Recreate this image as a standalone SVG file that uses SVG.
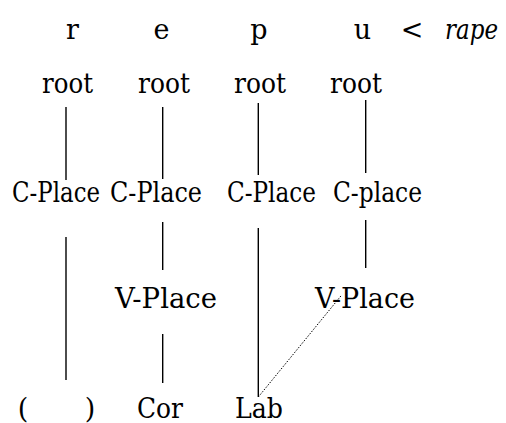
<svg xmlns="http://www.w3.org/2000/svg" width="506" height="423" viewBox="0 0 506 423">
<style>
.t{font-size:27px;fill:#000}
.it{font-style:italic}
.c{text-anchor:middle}
.ln{stroke:#000;stroke-width:1.4;fill:none}
.dot{stroke:#000;stroke-width:1;stroke-dasharray:1.5 1.5;fill:none}
</style>
<rect width="506" height="423" fill="#fff"/>
<g font-family="DejaVu Serif, serif" class="t">
<g id="segments">
<text x="72.5" y="39" class="c">r</text>
<text x="161.5" y="39" class="c">e</text>
<text x="259" y="39" class="c">p</text>
<text x="362.5" y="39" class="c">u</text>
<text x="412" y="39" class="c">&lt;</text>
<text x="445" y="39" class="it" textLength="53" lengthAdjust="spacingAndGlyphs">rape</text>
</g>
<g id="root1"><text x="42" y="93" textLength="51" lengthAdjust="spacingAndGlyphs">root</text></g>
<g id="root2"><text x="138" y="93" textLength="52" lengthAdjust="spacingAndGlyphs">root</text></g>
<g id="root3"><text x="234" y="93" textLength="52" lengthAdjust="spacingAndGlyphs">root</text></g>
<g id="root4"><text x="330" y="93" textLength="52" lengthAdjust="spacingAndGlyphs">root</text></g>
<g id="cplace1"><text x="12" y="202" textLength="88" lengthAdjust="spacingAndGlyphs">C-Place</text></g>
<g id="cplace2"><text x="110" y="202" textLength="92" lengthAdjust="spacingAndGlyphs">C-Place</text></g>
<g id="cplace3"><text x="227" y="202" textLength="89" lengthAdjust="spacingAndGlyphs">C-Place</text></g>
<g id="cplace4"><text x="333" y="202" textLength="89" lengthAdjust="spacingAndGlyphs">C-place</text></g>
<g id="vplace2"><text x="115" y="308" textLength="102" lengthAdjust="spacingAndGlyphs">V-Place</text></g>
<g id="vplace4"><text x="315" y="308" textLength="100" lengthAdjust="spacingAndGlyphs">V-Place</text></g>
<g id="paren"><text x="23" y="418" class="c">(</text><text x="90" y="418" class="c">)</text></g>
<g id="cor"><text x="137" y="418" textLength="46" lengthAdjust="spacingAndGlyphs">Cor</text></g>
<g id="lab"><text x="235" y="418" textLength="48" lengthAdjust="spacingAndGlyphs">Lab</text></g>
</g>
<g id="connectors">
<line class="ln" x1="66" y1="107" x2="66" y2="180"/>
<line class="ln" x1="162.7" y1="107" x2="162.7" y2="179"/>
<line class="ln" x1="258.3" y1="103" x2="258.3" y2="175"/>
<line class="ln" x1="365.7" y1="100" x2="365.7" y2="173"/>
<line class="ln" x1="66" y1="237" x2="66" y2="380"/>
<line class="ln" x1="162.7" y1="222" x2="162.7" y2="270"/>
<line class="ln" x1="258.3" y1="228" x2="258.3" y2="397"/>
<line class="ln" x1="365.7" y1="220" x2="365.7" y2="268"/>
<line class="ln" x1="162.7" y1="334" x2="162.7" y2="383"/>
<line class="dot" x1="258.3" y1="397" x2="341.7" y2="295"/>
</g>
</svg>
